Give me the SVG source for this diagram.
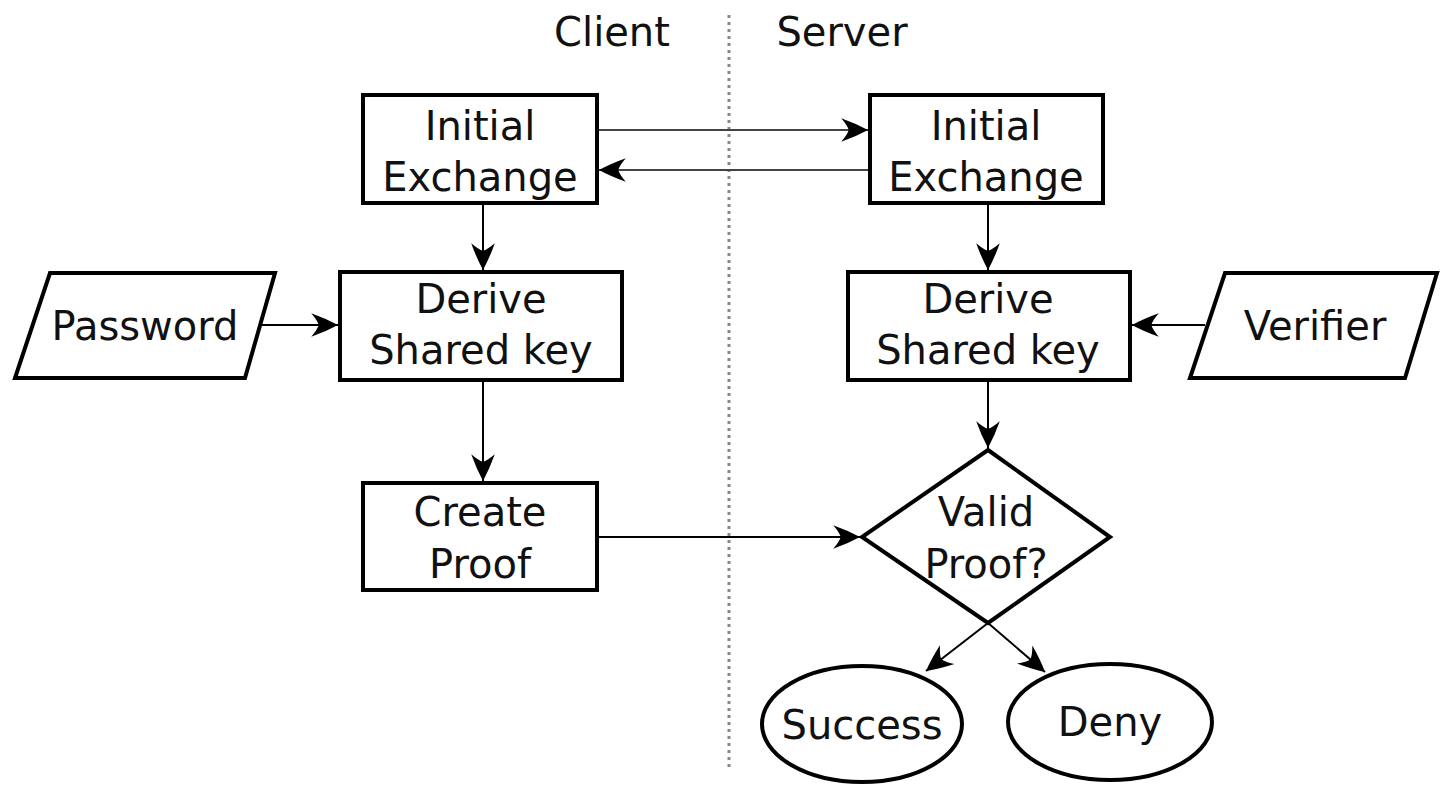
<svg xmlns="http://www.w3.org/2000/svg" width="1441" height="785" viewBox="0 0 1441 785">
  <style>
    .box { fill: #fff; stroke: #000; stroke-width: 4; }
    .lbl { font-family: "DejaVu Sans", "Liberation Sans", sans-serif; font-size: 40px; fill: #111; text-anchor: middle; }
    .edge { fill: none; stroke: #000; stroke-width: 2; marker-end: url(#dart); }
    .soft { stroke: #444; }
  </style>
  <defs>
    <!-- dart-shaped arrowhead with slightly concave flanks -->
    <marker id="dart" markerUnits="userSpaceOnUse" markerWidth="30" markerHeight="30" refX="0" refY="0" viewBox="-26 -13 28 26" orient="auto">
      <path d="M0,0 Q-11,-6 -25,-11 Q-19,-4 -18,0 Q-19,4 -25,11 Q-11,6 0,0 Z" fill="#000"/>
    </marker>
  </defs>

  <rect width="1441" height="785" fill="#fff"/>

  <!-- lane divider and headers -->
  <g id="lanes">
    <line x1="729" y1="15" x2="729" y2="768" stroke="#888" stroke-width="3" stroke-dasharray="3,4"/>
    <text class="lbl" x="612" y="46">Client</text>
    <text class="lbl" x="842" y="46">Server</text>
  </g>

  <g id="connectors">
    <line class="edge soft" x1="597" y1="130" x2="868" y2="130"/>
    <line class="edge soft" x1="870" y1="170" x2="599" y2="170"/>
    <line class="edge" x1="483" y1="203" x2="483" y2="270"/>
    <line class="edge" x1="260" y1="325" x2="338" y2="325"/>
    <line class="edge" x1="483" y1="380" x2="483" y2="481"/>
    <line class="edge" x1="597" y1="537" x2="860" y2="537"/>
    <line class="edge" x1="988" y1="203" x2="988" y2="270"/>
    <line class="edge" x1="1205" y1="325" x2="1132" y2="325"/>
    <line class="edge" x1="988" y1="380" x2="988" y2="448"/>
    <line class="edge" x1="988" y1="623" x2="926" y2="671"/>
    <line class="edge" x1="988" y1="623" x2="1045" y2="672"/>
  </g>

  <g id="client-init">
    <rect class="box" x="363" y="95" width="234" height="108"/>
    <text class="lbl" x="480" y="140">Initial</text>
    <text class="lbl" x="480" y="191">Exchange</text>
  </g>

  <g id="server-init">
    <rect class="box" x="870" y="95" width="233" height="108"/>
    <text class="lbl" x="986" y="140">Initial</text>
    <text class="lbl" x="986" y="191">Exchange</text>
  </g>

  <g id="password">
    <polygon class="box" points="50,273 275,273 245,378 15,378" stroke-width="3.5"/>
    <text class="lbl" x="145" y="340">Password</text>
  </g>

  <g id="client-derive">
    <rect class="box" x="340" y="272" width="282" height="108"/>
    <text class="lbl" x="481" y="313">Derive</text>
    <text class="lbl" x="481" y="364">Shared key</text>
  </g>

  <g id="server-derive">
    <rect class="box" x="848" y="272" width="282" height="108"/>
    <text class="lbl" x="988" y="313">Derive</text>
    <text class="lbl" x="988" y="364">Shared key</text>
  </g>

  <g id="verifier">
    <polygon class="box" points="1225,273 1437,273 1405,378 1190,378" stroke-width="3.5"/>
    <text class="lbl" x="1315" y="340">Verifier</text>
  </g>

  <g id="create-proof">
    <rect class="box" x="363" y="483" width="234" height="107"/>
    <text class="lbl" x="480" y="526">Create</text>
    <text class="lbl" x="480" y="578">Proof</text>
  </g>

  <g id="valid-proof">
    <polygon class="box" points="988,450 1110,537 988,623 862,537" stroke-width="5"/>
    <text class="lbl" x="986" y="526">Valid</text>
    <text class="lbl" x="986" y="578">Proof?</text>
  </g>

  <g id="success">
    <ellipse class="box" cx="862" cy="724" rx="100" ry="58" stroke-width="3"/>
    <text class="lbl" x="862" y="739">Success</text>
  </g>

  <g id="deny">
    <ellipse class="box" cx="1110" cy="722" rx="102" ry="58" stroke-width="3"/>
    <text class="lbl" x="1110" y="736">Deny</text>
  </g>
</svg>
